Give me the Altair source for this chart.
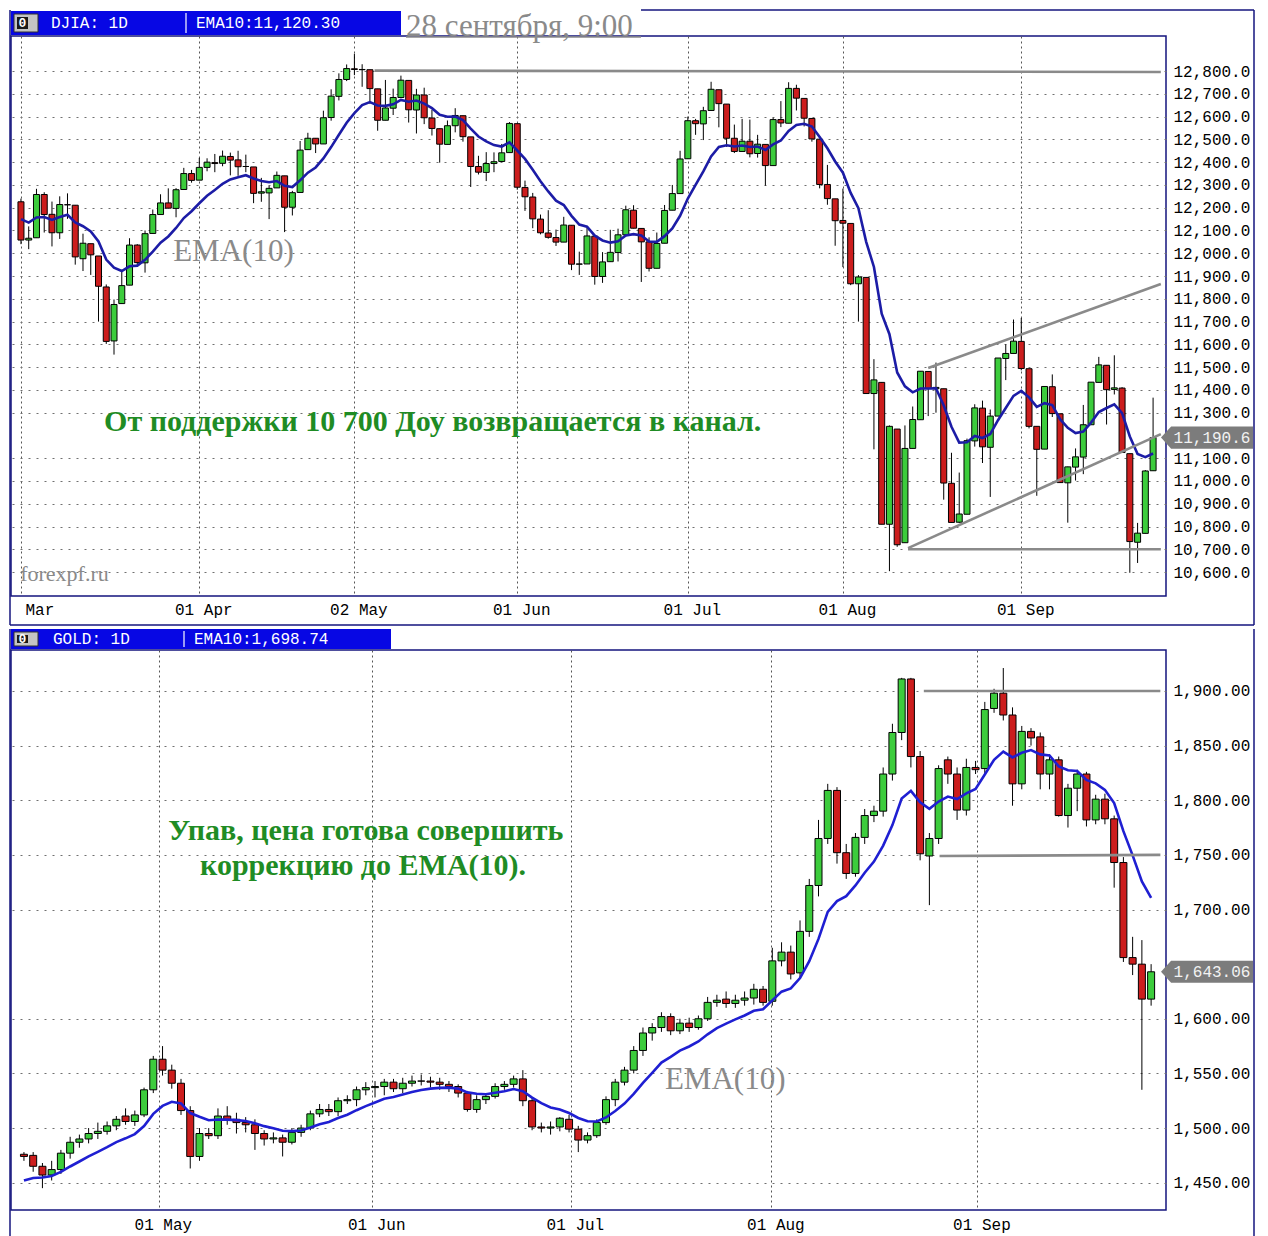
import json
import altair as alt
import pandas as pd

# ---------------- DJIA daily candles (trading-day index, 1 Mar .. 27 Sep) ----------------
DJ_OPEN = [12226,12058,12068,12258,12171,12090,12213,12211,11976,12042,11988,11852,11615,11779,11860,12036,11958,12087,12170,12221,12197,12280,12350,
           12321,12377,12398,12395,12425,12410,12381,12379,12264,12265,12287,12340,12202,12267,12455,12505,12480,12596,12689,12763,
           12810,12806,12806,12722,12584,12637,12684,12759,12629,12695,12594,12547,12478,12560,12604,12511,12381,12355,12394,12403,12442,
           12569,12289,12247,12150,12089,12069,12049,12123,11952,11953,12075,11898,11963,12003,12081,12189,12109,12050,11934,12044,12189,12262,
           12415,12582,12568,12627,12718,12655,12505,12447,12492,12438,12478,12385,12587,12571,12724,12680,12592,12501,12302,12239,
           12144,12131,11866,11894,11384,11433,10810,11228,10729,11143,11269,11481,11405,11405,10990,10819,10854,11176,11320,11148,11285,11538,11560,
           11613,11493,11240,11140,11414,11295,10992,11061,11105,11247,11433,11508,11402,11408,11120,10731,10770,11045]
DJ_HIGH = [12240,12118,12283,12268,12227,12250,12263,12211,12086,12042,11988,11863,11797,11927,12066,12040,12100,12192,12259,12285,12286,12375,12366,
           12419,12417,12436,12451,12442,12450,12433,12379,12331,12296,12359,12340,12274,12493,12529,12505,12626,12720,12790,12829,
           12876,12830,12806,12722,12761,12723,12780,12759,12722,12727,12629,12547,12583,12637,12604,12511,12428,12444,12443,12480,12576,
           12569,12319,12265,12170,12189,12104,12160,12123,12007,12112,12075,12005,12103,12108,12209,12211,12109,12070,12091,12212,12300,12450,
           12600,12590,12643,12753,12718,12655,12565,12590,12587,12520,12478,12595,12668,12751,12740,12680,12592,12501,12388,12239,
           12284,12131,11904,11894,11535,11433,11244,11228,11244,11327,11482,11481,11520,11405,11124,11037,11186,11337,11353,11314,11540,11600,11709,
           11716,11493,11240,11415,11468,11295,11063,11143,11334,11434,11545,11508,11552,11412,11120,10816,11048,11366]
DJ_LOW = [12040,12018,12068,12091,12030,12063,12151,11950,11922,11905,11700,11602,11555,11779,11860,11940,11915,12087,12170,12197,12158,12280,12310,
          12321,12360,12356,12382,12342,12340,12356,12220,12226,12150,12287,12093,12166,12267,12455,12440,12480,12582,12671,12756,
          12782,12731,12656,12538,12584,12607,12684,12574,12526,12567,12517,12398,12478,12531,12490,12291,12346,12317,12356,12403,12442,
          12279,12186,12110,12083,12064,12032,12049,11926,11905,11953,11862,11870,11963,11964,12074,12109,11874,11920,11934,12044,12189,12262,
          12415,12520,12497,12627,12553,12467,12440,12447,12421,12420,12297,12385,12554,12571,12627,12557,12490,12285,12213,12033,
          11939,11860,11700,11383,11139,10810,10604,10711,10729,11143,11269,11285,11300,10918,10817,10815,10854,11151,11079,10930,11285,11443,11560,
          11486,11231,10935,11140,11281,10992,10817,11002,11030,11247,11433,11248,11380,11124,10597,10640,10770,11045]
DJ_CLOSE = [12058,12066,12258,12170,12090,12214,12213,11984,12044,11993,11855,11613,11775,11858,12036,11959,12086,12170,12221,12198,12279,12350,12320,
            12377,12400,12394,12426,12409,12380,12381,12263,12270,12285,12342,12202,12266,12453,12505,12480,12595,12690,12763,12811,
            12807,12807,12723,12584,12638,12684,12760,12630,12695,12595,12548,12479,12560,12605,12512,12381,12356,12394,12402,12441,12570,
            12290,12248,12151,12090,12070,12049,12124,11952,11953,12076,11898,11962,12004,12081,12191,12110,12050,11934,12043,12188,12262,12414,
            12582,12569,12626,12720,12657,12505,12447,12492,12437,12479,12385,12587,12572,12724,12681,12593,12502,12302,12240,12143,
            12132,11866,11896,11384,11444,10810,11240,10720,11143,11270,11482,11406,11411,10991,10818,10855,11177,11321,11150,11285,11540,11560,11614,
            11494,11240,11139,11415,11296,10993,11062,11106,11247,11434,11510,11401,11409,11125,10734,10771,11044,11191]
DJ_EMA_START = 12170
DJ_TICK_POS = [0, 23, 43, 64, 86, 106, 129]
DJ_TICK_LAB = ["Mar", "01 Apr", "02 May", "01 Jun", "01 Jul", "01 Aug", "01 Sep"]
DJ_Y_TICKS = [10600, 10700, 10800, 10900, 11000, 11100, 11300, 11400, 11500, 11600, 11700,
              11800, 11900, 12000, 12100, 12200, 12300, 12400, 12500, 12600, 12700, 12800]
DJ_LAST = 11190.6
# drawn lines (start index, start value, end index, end value)
DJ_LN_I1 = [45.6, 117.0, 114.4, 114.4]
DJ_LN_V1 = [12802, 11496, 10705, 10700]
DJ_LN_I2 = [147.0, 147.0, 147.0, 147.0]
DJ_LN_V2 = [12796, 11865, 11206, 10700]

# ---------------- GOLD daily candles (weekday index, 11 Apr .. 28 Sep) ----------------
AU_OPEN = [1476,1475,1465,1457,1462,1477,1487,1490,1495,1497,1502,1511,1506,1512,1535,
           1563,1553,1541,1516,1474,1495,1493,1511,1508,1505,1503,1495,1490,1491,1487,1496,1500,1513,1517,1515,1525,1526,
           1535,1537,1538,1542,1536,1541,1543,1543,1542,1540,1538,1532,1517,1526,1529,1538,1540,1545,1525,1501,1500,1501,
           1508,1499,1489,1493,1505,1526,1542,1553,1571,1587,1592,1602,1589,1596,1592,1600,1615,1618,1614,1617,1619,
           1627,1616,1653,1661,1642,1680,1722,1765,1809,1752,1733,1766,1786,1790,1824,1862,1911,1840,1749,1765,1837,1824,1791,
           1830,1829,1884,1898,1878,1815,1863,1858,1824,1837,1786,1811,1824,1782,1801,1783,1743,1656,1650,1618]
AU_HIGH = [1478,1478,1468,1470,1480,1492,1494,1500,1505,1506,1511,1518,1516,1537,1566,
           1575,1558,1545,1520,1500,1500,1518,1520,1514,1510,1508,1498,1496,1494,1500,1503,1516,1522,1522,1528,1530,1538,
           1542,1543,1545,1545,1546,1548,1549,1547,1546,1543,1540,1534,1530,1532,1541,1543,1548,1553,1528,1505,1506,1510,
           1512,1502,1496,1508,1529,1545,1556,1575,1592,1596,1606,1605,1600,1601,1603,1620,1622,1625,1622,1625,1632,
           1630,1665,1670,1667,1690,1728,1782,1815,1812,1760,1770,1792,1795,1830,1870,1912,1912,1845,1770,1832,1840,1830,1838,
           1836,1890,1902,1921,1885,1868,1866,1862,1842,1840,1815,1828,1826,1805,1806,1786,1748,1675,1672,1650]
AU_LOW = [1470,1460,1445,1452,1458,1472,1482,1486,1490,1494,1498,1503,1502,1510,1532,
          1548,1536,1512,1463,1470,1490,1490,1503,1495,1496,1480,1484,1486,1474,1485,1492,1498,1510,1511,1511,1522,1520,
          1530,1528,1530,1533,1532,1538,1539,1537,1535,1533,1528,1515,1514,1522,1527,1535,1537,1520,1498,1496,1494,1497,
          1496,1478,1486,1491,1503,1520,1539,1550,1566,1580,1588,1585,1586,1588,1590,1598,1611,1610,1610,1612,1613,
          1612,1612,1648,1636,1638,1675,1712,1760,1742,1728,1730,1760,1780,1785,1818,1855,1830,1745,1704,1760,1815,1782,1786,
          1824,1825,1880,1873,1795,1810,1850,1810,1810,1785,1775,1790,1776,1778,1778,1720,1652,1640,1535,1612]
AU_CLOSE = [1474,1465,1457,1462,1477,1487,1490,1495,1497,1502,1508,1506,1512,1535,1563,
            1553,1541,1516,1474,1495,1493,1511,1507,1505,1503,1495,1490,1491,1487,1496,1500,1513,1517,1515,1525,1526,1535,
            1537,1538,1542,1536,1541,1543,1543,1542,1540,1538,1532,1517,1526,1529,1538,1540,1545,1525,1501,1500,1501,1509,
            1499,1489,1493,1505,1526,1542,1553,1571,1587,1592,1602,1589,1596,1592,1600,1615,1617,1614,1617,1619,1627,
            1615,1653,1661,1641,1680,1722,1765,1809,1752,1733,1766,1786,1790,1824,1862,1911,1840,1751,1765,1829,1824,1791,1830,
            1828,1883,1898,1878,1815,1863,1857,1824,1837,1786,1811,1824,1782,1801,1783,1743,1656,1650,1618,1643]
AU_EMA_START = 1447
AU_TICK_POS = [14.6, 37.7, 59.2, 80.9, 103.2]
AU_TICK_LAB = ["01 May", "01 Jun", "01 Jul", "01 Aug", "01 Sep"]
AU_Y_TICKS = [1450, 1500, 1550, 1600, 1700, 1750, 1800, 1850, 1900]
AU_LAST = 1643.06
AU_LN_I1 = [97.4, 99.1]
AU_LN_V1 = [1900, 1749]
AU_LN_I2 = [123.0, 123.0]
AU_LN_V2 = [1900, 1750]

# ---------------- styling ----------------
W, H = 1155, 560
MONO = "Liberation Mono"
SERIF = "Liberation Serif"
GREEN = "#3ccc3c"
RED = "#cc1d1d"
HDR = "#0707e4"
FRAME = "#14147e"
GRAY = "#8a8a8a"
TXTGREEN = "#1f8c24"
TAG = "M-1,0L-0.78,-0.24L1,-0.24L1,0.24L-0.78,0.24Z"
ONE = pd.DataFrame({"k": [0]})


def ema10(closes, start):
    k = 2.0 / 11.0
    out, e = [], start
    for c in closes:
        e = e + k * (c - e)
        out.append(round(e, 2))
    return out


def px_rect(x1, x2, y1, y2, **kw):
    return alt.Chart(ONE).mark_rect(**kw).encode(
        x=alt.value(x1), x2=alt.value(x2), y=alt.value(y1), y2=alt.value(y2))


def px_hline(x1, x2, y, color, w):
    return alt.Chart(ONE).mark_rule(color=color, strokeWidth=w).encode(
        x=alt.value(x1), x2=alt.value(x2), y=alt.value(y))


def px_vline(x, y1, y2, color, w):
    return alt.Chart(ONE).mark_rule(color=color, strokeWidth=w).encode(
        x=alt.value(x), y=alt.value(y1), y2=alt.value(y2))


def px_text(x, y, txt, **kw):
    return alt.Chart(ONE).mark_text(**kw).encode(
        x=alt.value(x), y=alt.value(y), text=alt.value(txt))


def panel(o, h, l, c, ema_start, xdom, ydom, tick_pos, tick_lab, y_ticks, y_fmt,
          bar_size, ema_color, ln, last_val, last_txt, texts, header, lab_pad):
    n = len(c)
    df = pd.DataFrame({"i": list(range(n)), "o": o, "h": h, "l": l, "c": c,
                       "e": ema10(c, ema_start)})
    xs = alt.Scale(domain=xdom, nice=False, zero=False)
    ys = alt.Scale(domain=ydom, nice=False, zero=False)
    label_expr = f"{json.dumps(tick_lab)}[indexof({json.dumps(tick_pos)}, datum.value)]"
    xax = alt.Axis(values=tick_pos, labelExpr=label_expr, title=None, grid=True,
                   gridDash=[2, 3], gridColor="#555555", gridWidth=1, ticks=False, tickSize=0,
                   domain=False, labelFont=MONO, labelFontSize=16, labelColor="#000000",
                   labelPadding=lab_pad, labelFlush=False, labelOffset=4,
                   labelAlign={"condition": {"test": "datum.value == 0", "value": "left"},
                               "value": "center"})
    yax = alt.Axis(values=y_ticks, format=y_fmt, orient="right", title=None, grid=True,
                   gridDash=[2, 6], gridColor="#707070", gridWidth=1, ticks=False, tickSize=0,
                   domain=False, labelFont=MONO, labelFontSize=16, labelColor="#000000",
                   labelPadding=7, labelAlign="left", labelBaseline="middle")

    def X(f="i"):
        return alt.X(f + ":Q", scale=xs, axis=xax)

    def Y(f):
        return alt.Y(f + ":Q", scale=ys, axis=yax)

    base = alt.Chart(df)
    wick = base.mark_rule(color="black", strokeWidth=1).encode(x=X(), y=Y("l"), y2="h:Q")
    body = base.mark_bar(size=bar_size, stroke="black", strokeWidth=1).encode(
        x=X(), y=Y("o"), y2="c:Q",
        fill=alt.condition("datum.c >= datum.o", alt.value(GREEN), alt.value(RED)))
    ema_line = base.mark_line(color=ema_color, strokeWidth=2.6).encode(x=X(), y=Y("e"))

    lines_df = pd.DataFrame({"i": ln[0], "v": ln[1], "i2": ln[2], "v2": ln[3]})
    lines = alt.Chart(lines_df).mark_rule(color=GRAY, strokeWidth=2.6).encode(
        x=X(), y=Y("v"), x2="i2:Q", y2="v2:Q")

    layers = [wick, body, ema_line, lines]
    for t in texts:
        tdf = pd.DataFrame({"i": [t["i"]], "v": [t["v"]], "t": [t["t"]]})
        layers.append(alt.Chart(tdf).mark_text(**t["style"]).encode(x=X(), y=Y("v"), text="t:N"))

    tag_df = pd.DataFrame({"v": [last_val], "t": [last_txt]})
    layers.append(alt.Chart(tag_df).mark_point(shape=TAG, size=92 * 92, filled=True, color="#7c7c7c",
                                                opacity=1, strokeWidth=0).encode(
        x=alt.value(W + 41), y=Y("v")))
    layers.append(alt.Chart(tag_df).mark_text(font=MONO, fontSize=16, color="#f2f2f2", align="center",
                                               baseline="middle").encode(
        x=alt.value(W + 46), y=Y("v"), text="t:N"))
    layers += header
    return alt.layer(*layers).properties(width=W, height=H)


def header_layers(top, bar_w, sep_x, sym, ema_txt, sym_x):
    mid = top / 2.0 - 0.5
    return [
        px_rect(0, bar_w, top, -1, color=HDR),
        px_rect(3, 27, top + 3, -4, fill="#c4c4c4", stroke="#303030", strokeWidth=1),
        px_rect(6, 17, top + 6, -7, fill="#1a1a1a"),
        px_text(11.5, mid, "0", font=MONO, fontSize=13, fontWeight="bold", color="#ffffff",
                align="center", baseline="middle"),
        px_vline(sep_x, top + 2, -3, "#ffffff", 1.2),
        px_text(sym_x, mid, sym, font=MONO, fontSize=16, color="#ffffff", align="left", baseline="middle"),
        px_text(sep_x + 10, mid, ema_txt, font=MONO, fontSize=16, color="#ffffff", align="left",
                baseline="middle"),
    ]


green_style = dict(font=SERIF, fontSize=30, fontWeight="bold", color=TXTGREEN, align="center",
                   baseline="middle")
ema_style = dict(font=SERIF, fontSize=31, color=GRAY, align="center", baseline="middle")
site_style = dict(font=SERIF, fontSize=22, color=GRAY, align="left", baseline="middle")

top_header = header_layers(-25, 390, 175, "DJIA: 1D", "EMA10:11,120.30", 40) + [
    px_text(395, 0, "28 сентября, 9:00", font=SERIF, fontSize=31, color=GRAY, align="left",
            baseline="alphabetic"),
    px_hline(395, 630, 1, GRAY, 1.5),
    px_hline(630, W + 88, -26, FRAME, 1.5),
    px_vline(W + 88, -26, H + 29, FRAME, 1.5),
    px_vline(-1, -26, H + 29, FRAME, 1.5),
    px_hline(-1, W + 88, H + 29, FRAME, 1.5),
]
top = panel(DJ_OPEN, DJ_HIGH, DJ_LOW, DJ_CLOSE, DJ_EMA_START, [-0.64, 147.02], [10495, 12954],
            DJ_TICK_POS, DJ_TICK_LAB, DJ_Y_TICKS, ",.1f", 6, "#1c1ca6",
            [DJ_LN_I1, DJ_LN_V1, DJ_LN_I2, DJ_LN_V2], DJ_LAST, "11,190.6",
            [dict(i=27.4, v=12005, t="EMA(10)", style=ema_style),
             dict(i=53.1, v=11258, t="От поддержки 10 700 Доу возвращается в канал.", style=green_style),
             dict(i=-0.1, v=10591, t="forexpf.ru", style=site_style)],
            top_header, 5)

bottom_header = header_layers(-21, 380, 173, "GOLD: 1D", "EMA10:1,698.74", 42) + [
    px_vline(W + 88, -21, H + 28, FRAME, 1.5),
    px_vline(-1, -21, H + 28, FRAME, 1.5),
]
bottom = panel(AU_OPEN, AU_HIGH, AU_LOW, AU_CLOSE, AU_EMA_START, [-0.86, 123.07], [1425, 1937.5],
               AU_TICK_POS, AU_TICK_LAB, AU_Y_TICKS, ",.2f", 7, "#1f1fd2",
               [AU_LN_I1, AU_LN_V1, AU_LN_I2, AU_LN_V2], AU_LAST, "1,643.06",
               [dict(i=37.0, v=1772, t="Упав, цена готова совершить", style=green_style),
                dict(i=36.7, v=1740, t="коррекцию до EMA(10).", style=green_style),
                dict(i=75.9, v=1544, t="EMA(10)", style=ema_style)],
               bottom_header, 6)

chart = alt.vconcat(top, bottom, spacing=0).properties(
    padding={"left": 0, "top": 0, "right": 0, "bottom": 0}
).configure_view(stroke=FRAME, strokeWidth=1.5)

chart.save("out.html", embed_options={"renderer": "svg", "actions": False})
